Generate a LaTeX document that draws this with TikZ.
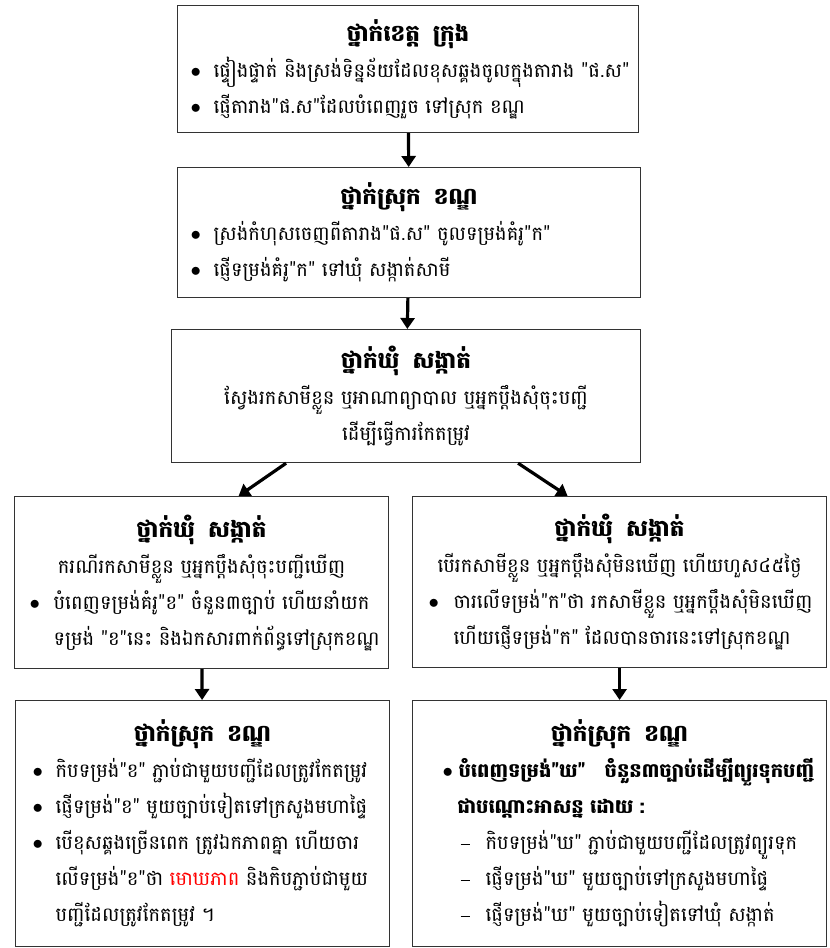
\documentclass[tikz,border=0pt]{standalone}
\usepackage{fontspec}
\usepackage{xcolor}
\usetikzlibrary{arrows.meta,positioning}
\newfontfamily\khmer[Script=Khmer]{Battambang}

\newcommand{\ttl}[1]{\makebox[\hsize][c]{\fontsize{23}{36}\selectfont\bfseries #1}}
\newcommand{\ctr}[1]{\makebox[\hsize][c]{#1}}
\newcommand{\bul}[3]{\makebox[\hsize][l]{\hspace*{#1}\makebox[#2][l]{\normalfont$\bullet$}#3}}
\newcommand{\cnt}[2]{\makebox[\hsize][l]{\hspace*{#1}#2}}
\newcommand{\dsh}[3]{\makebox[\hsize][l]{\hspace*{#1}\makebox[#2][l]{\rule[5pt]{9pt}{1pt}}#3}}

\begin{document}
\begin{tikzpicture}[x=1pt, y=-1pt,
    box/.style={rectangle, draw=black!80, line width=1.2pt, inner sep=0pt, anchor=north west, align=center, font=\khmer\fontsize{19.5}{36}\selectfont},
    arrow/.style={-{Triangle[width=14pt,length=11pt]}, line width=3.2pt}
]
\useasboundingbox (0,0) rectangle (830,948);

% Province level
\node[box, minimum width=461pt, minimum height=127pt, text width=457pt] (prov) at (177,5) {%
\ttl{ថ្នាក់ខេត្ត\ \ ក្រុង}\\
\bul{11pt}{23pt}{ផ្ទៀងផ្ទាត់ និងស្រង់ទិន្នន័យដែលខុសឆ្គងចូលក្នុងតារាង "ផ.ស"}\\
\bul{11pt}{23pt}{ផ្ញើតារាង"ផ.ស"ដែលបំពេញរួច ទៅស្រុក ខណ្ឌ}};

% District level
\node[box, minimum width=463pt, minimum height=130pt, text width=459pt] (dist) at (177,167) {%
\ttl{ថ្នាក់ស្រុក\ \ ខណ្ឌ}\\
\bul{11pt}{23pt}{ស្រង់កំហុសចេញពីតារាង"ផ.ស" ចូលទម្រង់គំរូ"ក"}\\
\bul{11pt}{23pt}{ផ្ញើទម្រង់គំរូ"ក" ទៅឃុំ សង្កាត់សាមី}};

% Commune level
\node[box, minimum width=469pt, minimum height=133pt, text width=465pt] (comm) at (171,329) {%
\ttl{ថ្នាក់ឃុំ\ \ សង្កាត់}\\
\ctr{ស្វែងរកសាមីខ្លួន ឬអាណាព្យាបាល ឬអ្នកប្ដឹងសុំចុះបញ្ជី}\\
\ctr{ដើម្បីធ្វើការកែតម្រូវ}};

% Two cases
\node[box, minimum width=374pt, minimum height=172pt, text width=370pt] (found) at (14,496) {%
\ttl{ថ្នាក់ឃុំ\ \ សង្កាត់}\\
\ctr{ករណីរកសាមីខ្លួន ឬអ្នកប្ដឹងសុំចុះបញ្ជីឃើញ}\\
\bul{13pt}{24pt}{បំពេញទម្រង់គំរូ"ខ" ចំនួន៣ច្បាប់ ហើយនាំយក}\\
\cnt{37pt}{ទម្រង់ "ខ"នេះ និងឯកសារពាក់ព័ន្ធទៅស្រុកខណ្ឌ}};

\node[box, minimum width=414pt, minimum height=171pt, text width=410pt] (notfound) at (412,496) {%
\ttl{ថ្នាក់ឃុំ\ \ សង្កាត់}\\
\ctr{បើរកសាមីខ្លួន ឬអ្នកប្ដឹងសុំមិនឃើញ ហើយហួស៤៥ថ្ងៃ}\\
\bul{14pt}{25pt}{ចារលើទម្រង់"ក"ថា រកសាមីខ្លួន ឬអ្នកប្ដឹងសុំមិនឃើញ}\\
\cnt{39pt}{ហើយផ្ញើទម្រង់"ក" ដែលបានចារនេះទៅស្រុកខណ្ឌ}};

% District level, final steps
\node[box, minimum width=374pt, minimum height=246pt, text width=370pt] (distfix) at (15,700) {%
\ttl{ថ្នាក់ស្រុក\ \ ខណ្ឌ}\\
\bul{15pt}{23pt}{កិបទម្រង់"ខ" ភ្ជាប់ជាមួយបញ្ជីដែលត្រូវកែតម្រូវ}\\
\bul{15pt}{23pt}{ផ្ញើទម្រង់"ខ" មួយច្បាប់ទៀតទៅក្រសួងមហាផ្ទៃ}\\
\bul{15pt}{23pt}{បើខុសឆ្គងច្រើនពេក ត្រូវឯកភាពគ្នា ហើយចារ}\\
\cnt{38pt}{លើទម្រង់"ខ"ថា \textcolor{red}{មោឃភាព} និងកិបភ្ជាប់ជាមួយ}\\
\cnt{38pt}{បញ្ជីដែលត្រូវកែតម្រូវ ។}};

\node[box, minimum width=414pt, minimum height=246pt, text width=410pt] (distsusp) at (412,700) {%
\ttl{ថ្នាក់ស្រុក\ \ ខណ្ឌ}\\
\bul{28pt}{16pt}{\bfseries បំពេញទម្រង់"ឃ"\ \ \ ចំនួន៣ច្បាប់ដើម្បីព្យួរទុកបញ្ជី}\\
\cnt{43pt}{\bfseries ជាបណ្ដោះអាសន្ន ដោយ :}\\
\dsh{46pt}{25pt}{កិបទម្រង់"ឃ" ភ្ជាប់ជាមួយបញ្ជីដែលត្រូវព្យួរទុក}\\
\dsh{46pt}{25pt}{ផ្ញើទម្រង់"ឃ" មួយច្បាប់ទៅក្រសួងមហាផ្ទៃ}\\
\dsh{46pt}{25pt}{ផ្ញើទម្រង់"ឃ" មួយច្បាប់ទៀតទៅឃុំ សង្កាត់}};

% Arrows
\draw[arrow] (prov) -- (dist);
\draw[arrow] (dist) -- (comm);
\draw[arrow] ([xshift=-120pt]comm.south) -- ([xshift=37pt]found.north);
\draw[arrow] ([xshift=112pt]comm.south) -- ([xshift=-52pt]notfound.north);
\draw[arrow] (found) -- (distfix);
\draw[arrow] (notfound) -- (distsusp);
\end{tikzpicture}
\end{document}
